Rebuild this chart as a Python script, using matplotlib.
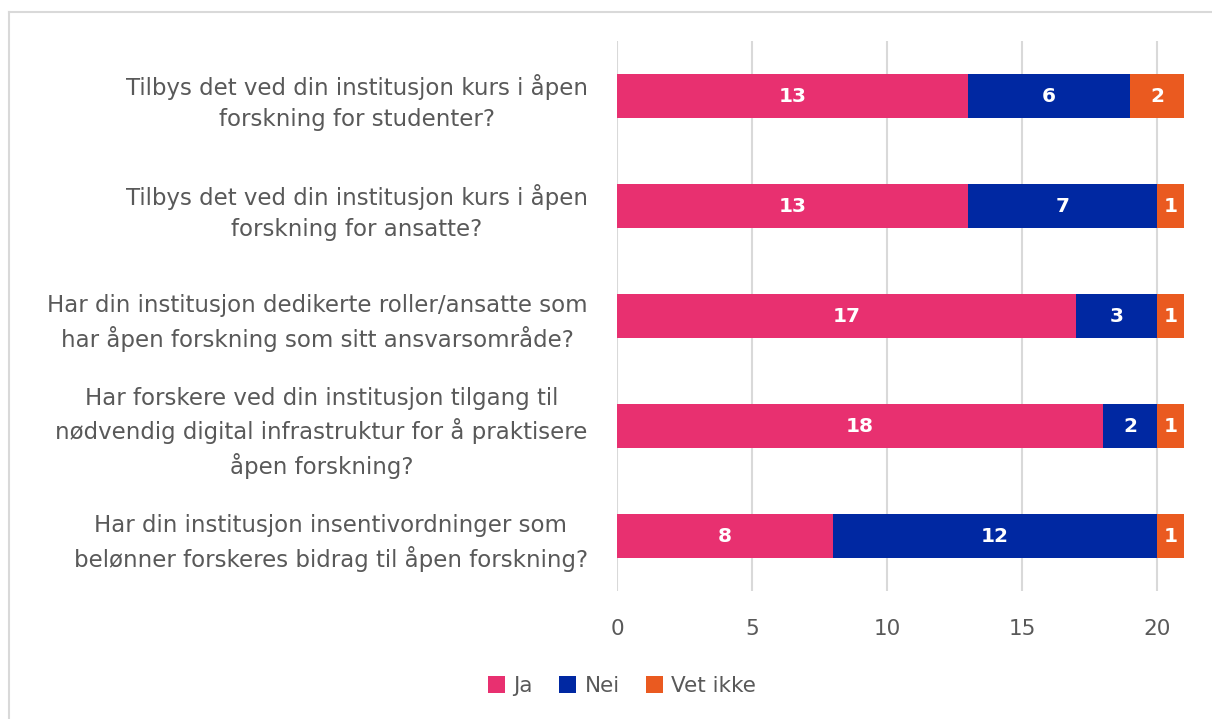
import matplotlib
matplotlib.use("Agg")
import matplotlib.pyplot as plt
from matplotlib.lines import Line2D
from matplotlib.patches import Patch

categories = [
    "Tilbys det ved din institusjon kurs i åpen\nforskning for studenter?",
    "Tilbys det ved din institusjon kurs i åpen\nforskning for ansatte?",
    "Har din institusjon dedikerte roller/ansatte som\nhar åpen forskning som sitt ansvarsområde?",
    "Har forskere ved din institusjon tilgang til\nnødvendig digital infrastruktur for å praktisere\nåpen forskning?",
    "Har din institusjon insentivordninger som\nbelønner forskeres bidrag til åpen forskning?",
]
ja = [13, 13, 17, 18, 8]
nei = [6, 7, 3, 2, 12]
vet_ikke = [2, 1, 1, 1, 1]
series_names = ["Ja", "Nei", "Vet ikke"]
colors = ["#E83070", "#0028A2", "#EA5A20"]
xticks = [0, 5, 10, 15, 20]

plt.rcParams['font.family'] = ['DejaVu Sans']
W, H = 1212, 719
fig = plt.figure(figsize=(W / 100, H / 100), dpi=100)
ax = fig.add_axes([617 / W, 1 - 591 / H, (1184 - 617) / W, (591 - 41) / H])

y = list(range(len(categories)))
left = [0] * len(categories)
for vals, name, c in zip([ja, nei, vet_ikke], series_names, colors):
    bars = ax.barh(y, vals, left=left, height=0.4, color=c, label=name, zorder=3)
    for b, v in zip(bars, vals):
        ax.text(b.get_x() + b.get_width() / 2, b.get_y() + b.get_height() / 2, str(v),
                ha='center', va='center', color='white', fontsize=14.5, fontweight='bold', zorder=4)
    left = [l + v for l, v in zip(left, vals)]

ax.set_xlim(0, 21)
ax.set_ylim(4.5, -0.5)
ax.set_xticks(xticks)
ax.set_yticks(y)
ax.set_yticklabels(categories, fontsize=16.5, color='#595959', multialignment='center', linespacing=1.42)
ax.tick_params(axis='y', length=0, pad=21)
ax.tick_params(axis='x', length=0, pad=20, labelsize=15.5, labelcolor='#595959')
ax.grid(axis='x', color='#D9D9D9', linewidth=1.5, zorder=0)
for s in ax.spines.values():
    s.set_visible(False)

handles = [Patch(facecolor=c, label=n) for c, n in zip(colors, series_names)]
fig.legend(handles=handles, loc='center', bbox_to_anchor=(622 / W, 1 - 686 / H), ncol=3, frameon=False,
           fontsize=15.5, labelcolor='#595959', handlelength=0.8, handleheight=0.8, handletextpad=0.4,
           columnspacing=1.2)

# outer border
fig.add_artist(Line2D([8.5 / W, 8.5 / W], [0, 1 - 11.5 / H], color='#D9D9D9', linewidth=1.5, transform=fig.transFigure))
fig.add_artist(Line2D([8.5 / W, 1], [1 - 11.5 / H, 1 - 11.5 / H], color='#D9D9D9', linewidth=1.5, transform=fig.transFigure))

fig.savefig("out.png", dpi=100)
